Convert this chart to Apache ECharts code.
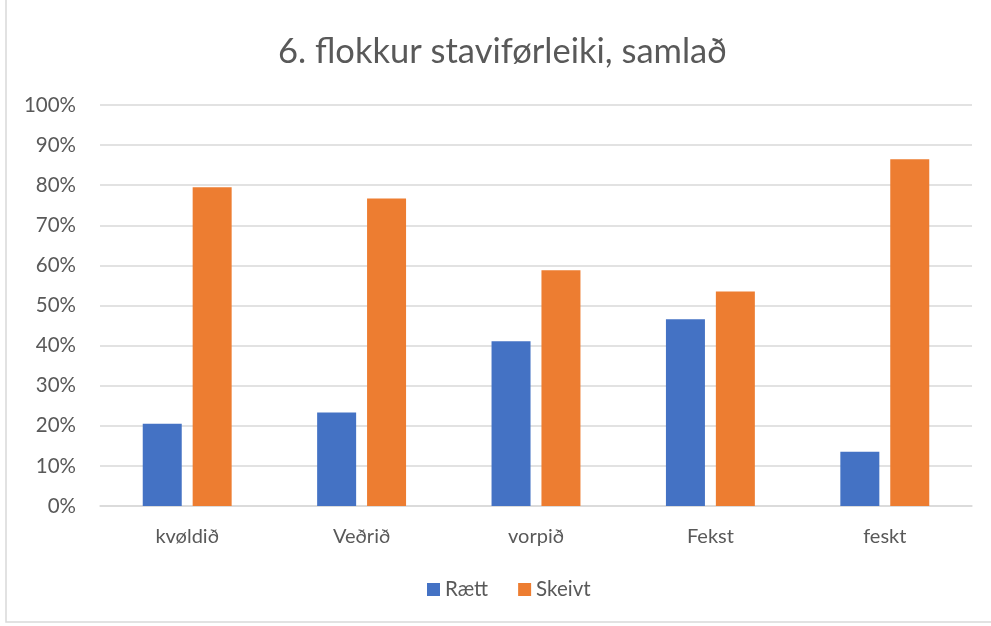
<!DOCTYPE html>
<html><head><meta charset="utf-8">
<script src="https://cdn.jsdelivr.net/npm/echarts@6/dist/echarts.min.js"></script>
<style>html,body{margin:0;padding:0;background:#fff}#c{width:991px;height:626px}</style>
</head><body><div id="c"></div>
<script>
const categories = ['kvøldið', 'Veðrið', 'vorpið', 'Fekst', 'feskt'];
const raett = [20.5, 23.3, 41.1, 46.6, 13.5];
const skeivt = [79.5, 76.7, 58.8, 53.5, 86.5];
const seriesNames = ['Rætt', 'Skeivt'];
const font = 'Lato, "Open Sans", sans-serif';
const chart = echarts.init(document.getElementById('c'));
chart.setOption({
  animation: false,
  title: { text: '6. flokkur staviførleiki, samlað', left: 273, top: 29,
    textStyle: { fontFamily: font, fontSize: 34.5, fontWeight: 'normal', color: '#595959' } },
  legend: { bottom: 21, left: 422, itemWidth: 13, itemHeight: 13, itemGap: 30, itemTextGap: 7, icon: 'rect',
    textStyle: { fontFamily: font, fontSize: 20.5, color: '#595959' }, data: seriesNames },
  grid: { left: 100, right: 19, top: 105, bottom: 120 },
  xAxis: { type: 'category', data: categories,
    axisLine: { lineStyle: { color: '#d9d9d9', width: 1.5 } }, axisTick: { show: false },
    axisLabel: { fontFamily: font, fontSize: 20, color: '#595959', margin: 21 } },
  yAxis: { type: 'value', min: 0, max: 100, interval: 10,
    axisLine: { show: false }, axisTick: { show: false },
    splitLine: { lineStyle: { color: '#d9d9d9', width: 1.5 } },
    axisLabel: { fontFamily: font, fontSize: 20.5, color: '#595959', margin: 24, formatter: '{value}%' } },
  series: [
    { name: seriesNames[0], type: 'bar', data: raett, barWidth: 39, barGap: '28%', itemStyle: { color: '#4472c4' } },
    { name: seriesNames[1], type: 'bar', data: skeivt, barWidth: 39, itemStyle: { color: '#ed7d31' } }
  ],
  graphic: [{ type: 'rect', shape: { x: 6, y: -5, width: 1000, height: 627 }, style: { fill: 'none', stroke: '#d9d9d9', lineWidth: 1.5 }, silent: true }]
});
</script></body></html>
